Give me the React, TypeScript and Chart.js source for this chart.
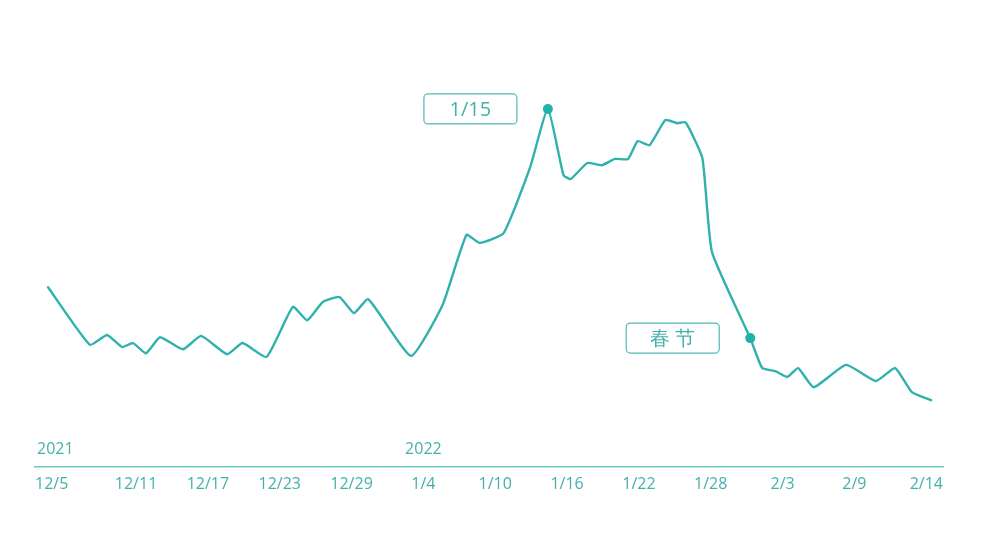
import React, { useRef, useEffect } from "react";
import { Chart, registerables } from "chart.js";

Chart.register(...registerables);

const dayOffsets = [
  -1.35, 2.15, 3.58, 4.83, 5.75, 6.83, 8.0, 9.92, 11.43, 13.6, 14.9, 16.9,
  19.1, 20.3, 21.6, 23.0, 24.2, 25.4, 28.97, 31.6, 33.6, 34.7, 36.7, 38.9,
  40.4, 41.7, 42.3, 43.7, 44.9, 46.0, 47.1, 47.9, 48.9, 50.2, 51.2, 51.9,
  53.3, 54.1, 57.3, 58.3, 59.4, 60.4, 61.3, 62.6, 65.3, 67.8, 69.4, 70.8,
  72.4,
];
const values = [
  40.2, 27.3, 29.5, 26.8, 27.7, 25.4, 29.0, 26.3, 29.3, 25.2, 27.7, 24.6,
  35.8, 32.8, 36.9, 38.0, 34.4, 37.5, 24.8, 36.2, 51.9, 50.1, 52.3, 66.9,
  80.1, 65.3, 64.4, 68.0, 67.5, 68.9, 68.9, 72.9, 72.0, 77.6, 76.9, 77.1,
  69.1, 48.1, 28.8, 22.1, 21.4, 20.1, 22.1, 17.8, 22.8, 19.2, 22.1, 16.7,
  14.9,
];

const X_MIN = -2.44;
const X_MAX = 73.4;

const tickLabels = [
  "12/5", "12/11", "12/17", "12/23", "12/29", "1/4", "1/10",
  "1/16", "1/22", "1/28", "2/3", "2/9", "2/14",
];
const tickDays = [X_MIN, 6, 12, 18, 24, 30, 36, 42, 48, 54, 60, 66, X_MAX];

const yearLabels = ["2021", "2022"];
const yearTickIndex = [0, 5];

const calloutLabels = ["1/15", "春 节"];
const calloutPoints = [24, 38];

const TEAL = "#2fb2ac";
const TEXT = "#45b0aa";
const FONT = "'Open Sans', sans-serif";

const calloutPlugin = {
  id: "callouts",
  afterDatasetsDraw(chart: any) {
    const ctx = chart.ctx;
    const meta = chart.getDatasetMeta(0);
    ctx.save();
    calloutLabels.forEach((label, i) => {
      const pt = meta.data[calloutPoints[i]];
      const w = 93;
      const h = 30;
      const right = pt.x - 31;
      const left = right - w;
      const top = pt.y - h / 2;
      ctx.beginPath();
      ctx.roundRect(left, top, w, h, 4);
      ctx.lineWidth = 1.2;
      ctx.strokeStyle = "#52b9b3";
      ctx.stroke();
      ctx.fillStyle = TEXT;
      ctx.font = `20px ${FONT}`;
      ctx.textAlign = "center";
      ctx.textBaseline = "middle";
      ctx.fillText(label, left + w / 2, pt.y + 1);
    });

    // year labels sitting above the axis line
    const xScale = chart.scales.x;
    ctx.font = `16px ${FONT}`;
    ctx.textBaseline = "middle";
    yearLabels.forEach((year, i) => {
      const idx = yearTickIndex[i];
      const px = xScale.getPixelForValue(tickDays[idx]);
      ctx.textAlign = idx === 0 ? "left" : "center";
      ctx.fillText(year, idx === 0 ? px + 2 : px, chart.chartArea.bottom - 17);
    });
    ctx.restore();
  },
};

const App: React.FC = () => {
  const chartRef = useRef<HTMLCanvasElement | null>(null);

  useEffect(() => {
    document.body.style.margin = "0";
    if (!chartRef.current) return;

    const chart = new Chart(chartRef.current, {
      type: "line",
      data: {
        datasets: [
          {
            data: dayOffsets.map((d, i) => ({ x: d, y: values[i] })),
            borderColor: TEAL,
            borderWidth: 2.4,
            tension: 0.15,
            borderJoinStyle: "round",
            borderCapStyle: "round",
            pointRadius: values.map((_, i) => (calloutPoints.includes(i) ? 5 : 0)),
            pointBackgroundColor: "#1db3ad",
            pointBorderWidth: 0,
            pointHoverRadius: 0,
          },
        ],
      },
      options: {
        animation: false,
        responsive: true,
        maintainAspectRatio: false,
        layout: { padding: { left: 35, right: 38, top: 20, bottom: 43 } },
        plugins: { legend: { display: false }, tooltip: { enabled: false } },
        scales: {
          x: {
            type: "linear",
            min: X_MIN,
            max: X_MAX,
            afterBuildTicks: (scale: any) => {
              scale.ticks = tickDays.map((v) => ({ value: v }));
            },
            grid: { display: false, drawTicks: false },
            border: { display: true, color: "#6cc8c2", width: 1.5 },
            ticks: {
              autoSkip: false,
              maxRotation: 0,
              align: "inner",
              padding: 8,
              color: TEXT,
              font: { family: FONT, size: 16 },
              callback: (_v: any, index: number) => tickLabels[index],
            },
          },
          y: {
            display: false,
            min: 0,
            max: 100,
          },
        },
      },
      plugins: [calloutPlugin],
    } as any);

    return () => {
      chart.destroy();
    };
  }, []);

  return (
    <div style={{ width: "981px", height: "545px", position: "relative" }}>
      <canvas ref={chartRef}></canvas>
    </div>
  );
};

export default App;
